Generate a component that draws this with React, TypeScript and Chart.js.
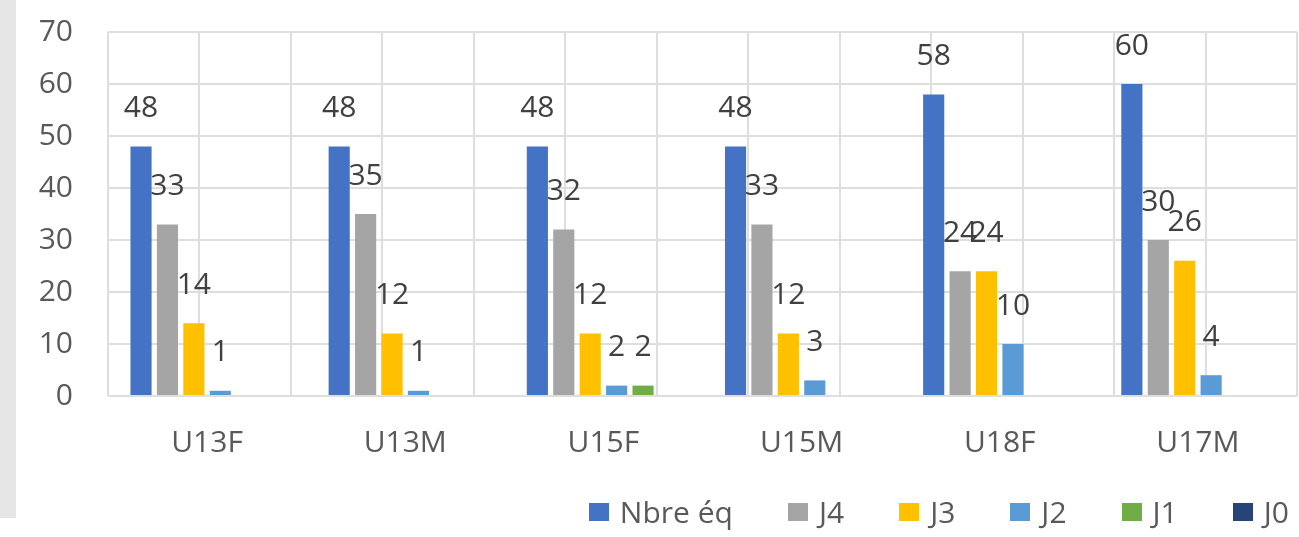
import { useEffect, useRef } from "react";
import Chart from "chart.js/auto";

const categories = ["U13F", "U13M", "U15F", "U15M", "U18F", "U17M"];
const seriesNames = ["Nbre éq", "J4", "J3", "J2", "J1", "J0"];
const nbreEq = [48, 48, 48, 48, 58, 60];
const j4 = [33, 35, 32, 33, 24, 30];
const j3 = [14, 12, 12, 12, 24, 26];
const j2 = [1, 1, 2, 3, 10, 4];
const j1 = [null, null, 2, null, null, null];
const j0 = [null, null, null, null, null, null];
const yMax = 70;
const yStep = 10;

const seriesColors = ["#4472C4", "#A5A5A5", "#FFC000", "#5B9BD5", "#70AD47", "#264478"];
const FONT = "'Open Sans', sans-serif";
const TEXT = "#595959";
const GRID = "#dedede";

// value labels drawn above each bar, Excel style
const barLabels = {
  id: "barLabels",
  afterDatasetsDraw(chart: any) {
    const ctx = chart.ctx;
    ctx.save();
    ctx.font = `30px ${FONT}`;
    ctx.fillStyle = "#404040";
    ctx.textAlign = "center";
    ctx.textBaseline = "middle";
    chart.data.datasets.forEach((ds: any, i: number) => {
      const meta = chart.getDatasetMeta(i);
      meta.data.forEach((bar: any, j: number) => {
        const v = ds.data[j];
        if (v === null || v === undefined) return;
        ctx.fillText(String(v), bar.x, bar.y - 38);
      });
    });
    ctx.restore();
  },
};

const App = () => {
  const canvasRef = useRef<HTMLCanvasElement | null>(null);

  useEffect(() => {
    document.body.style.margin = "0";
    let chart: Chart | null = null;
    if (canvasRef.current) {
      const ctx = canvasRef.current.getContext("2d");
      if (ctx) {
        const values = [nbreEq, j4, j3, j2, j1, j0];
        chart = new Chart(ctx, {
          type: "bar",
          data: {
            labels: categories,
            datasets: seriesNames.map((name, i) => ({
              label: name,
              data: values[i],
              backgroundColor: seriesColors[i],
              borderWidth: 0,
              categoryPercentage: 0.8,
              barPercentage: 0.8,
            })),
          },
          options: {
            animation: false,
            responsive: false,
            layout: {
              padding: { left: 0, right: 2, top: 32, bottom: 47 },
            },
            plugins: {
              legend: { display: false },
              tooltip: { enabled: false },
            },
            scales: {
              x: {
                grid: { display: false, drawTicks: false },
                border: { display: false },
                ticks: {
                  color: TEXT,
                  font: { family: FONT, size: 30 },
                  padding: 29,
                },
                afterFit: (axis: any) => {
                  axis.paddingLeft = 0;
                  axis.paddingRight = 0;
                },
              },
              // half-category vertical gridlines, as in the Excel plot
              xg: {
                type: "linear",
                position: "bottom",
                min: 0,
                max: categories.length * 2,
                ticks: { display: false, stepSize: 1 },
                grid: { color: GRID, lineWidth: 2, drawTicks: false },
                border: { display: false },
                afterFit: (axis: any) => {
                  axis.height = 0;
                  axis.paddingLeft = 0;
                  axis.paddingRight = 0;
                },
              },
              y: {
                min: 0,
                max: yMax,
                ticks: {
                  stepSize: yStep,
                  color: TEXT,
                  font: { family: FONT, size: 30 },
                  padding: 35,
                },
                grid: { color: GRID, lineWidth: 2, drawTicks: false },
                border: { display: false },
                afterFit: (axis: any) => {
                  axis.width = 108;
                  axis.paddingTop = 0;
                  axis.paddingBottom = 0;
                },
              },
            },
          },
          plugins: [barLabels],
        });
      }
    }
    return () => {
      chart?.destroy();
    };
  }, []);

  return (
    <div style={{ position: "relative", width: 1299, height: 537, background: "#fff", overflow: "hidden" }}>
      {/* grey strip at the left edge of the screenshot */}
      <div style={{ position: "absolute", left: 0, top: 0, width: 16, height: 518, background: "#e6e6e6" }} />
      <canvas ref={canvasRef} width={1299} height={537} style={{ position: "absolute", left: 0, top: 0 }} />
      {/* legend */}
      <div
        style={{
          position: "absolute",
          right: 10,
          top: 494,
          display: "flex",
          alignItems: "center",
          gap: 55,
          fontFamily: FONT,
          fontSize: 30,
          lineHeight: "36px",
          color: TEXT,
        }}
      >
        {seriesNames.map((name, i) => (
          <div key={name} style={{ display: "flex", alignItems: "center" }}>
            <span style={{ display: "inline-block", width: 20, height: 18, background: seriesColors[i], marginRight: 11 }} />
            <span>{name}</span>
          </div>
        ))}
      </div>
    </div>
  );
};

export default App;
